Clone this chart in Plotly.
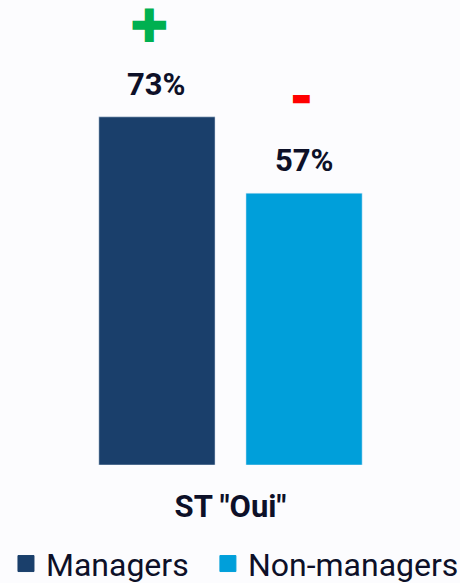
import plotly.graph_objects as go

category = ['ST "Oui"']
groups = ["Managers", "Non-managers"]
values = [73, 57]
colors = ["#1A3F6B", "#009FDA"]
signs = ["✚", "▬"]
sign_colors = ["#00B050", "#FF0000"]

TEXT = "#0D1028"
BG = "#FCFCFE"
FONT = "Roboto"

fig = go.Figure()
# one legend per group so each entry can be placed on its own
legend_ids = ["legend", "legend2"]
for name, v, c, lg in zip(groups, values, colors, legend_ids):
    fig.add_bar(x=category, y=[v], name=name, marker_color=c, showlegend=False)
    # separate scatter so the legend square can be bigger
    fig.add_scatter(x=[None], y=[None], mode="markers", name=name, legend=lg,
                    marker=dict(symbol="square", size=16, color=c, line=dict(color=c, width=1)))

# labels and +/- signs sit over each bar of the group
offsets = [-73.75, 73.75]
for v, dx in zip(values, offsets):
    fig.add_annotation(x=category[0], y=v, text=f"<b>{v}%</b>", showarrow=False,
                       xshift=dx, yshift=12, yanchor="bottom",
                       font=dict(family=FONT, size=31, color=TEXT))
fig.add_annotation(x=category[0], y=values[0], text=signs[0], showarrow=False,
                   xshift=offsets[0] - 7, yshift=62, yanchor="bottom",
                   font=dict(family="DejaVu Sans", size=46, color=sign_colors[0]))
fig.add_annotation(x=category[0], y=values[1], text=signs[1], showarrow=False,
                   xshift=offsets[1] - 3, yshift=81, yanchor="bottom",
                   font=dict(family="DejaVu Sans", size=22, color=sign_colors[1]))

legend_style = dict(orientation="h", xanchor="left", y=-0.217, yanchor="middle", xref="container",
                    bgcolor="rgba(0,0,0,0)", font=dict(family=FONT, size=32, color=TEXT))
fig.update_layout(
    width=460, height=583,
    margin=dict(l=1, r=0, t=10, b=118, autoexpand=False),
    paper_bgcolor=BG, plot_bgcolor=BG,
    barmode="group", bargap=0.359, bargroupgap=0.21,
    font=dict(family=FONT, color=TEXT),
    legend=dict(x=0.013, **legend_style),
    legend2=dict(x=0.452, **legend_style),
)
fig.update_xaxes(showgrid=False, showline=False, ticks="", ticklabelstandoff=20, automargin=False,
                 tickfont=dict(family=FONT, size=31, color=TEXT, weight="bold"))
fig.update_yaxes(visible=False, range=[0, 95.4], automargin=False)

fig.write_html("out.html", config={"displayModeBar": False},
               post_script="document.body.style.margin='0';")
